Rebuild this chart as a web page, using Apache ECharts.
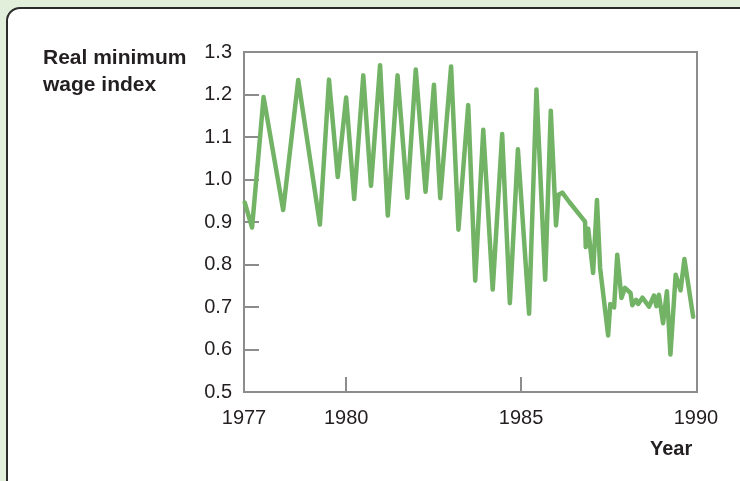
<!DOCTYPE html>
<html>
<head>
<meta charset="utf-8">
<script src="https://cdn.jsdelivr.net/npm/echarts@6/dist/echarts.min.js"></script>
<style>
html,body{margin:0;padding:0;background:#e2efdb;}
#chart{width:740px;height:481px;}
</style>
</head>
<body>
<div id="chart"></div>
<script>
// Data
var years = [1977.10,1977.31,1977.64,1978.20,1978.63,1979.25,1979.51,1979.76,1980.00,1980.23,
  1980.49,1980.71,1980.97,1981.19,1981.47,1981.75,1981.99,1982.27,1982.51,1982.69,
  1983.00,1983.21,1983.49,1983.69,1983.92,1984.19,1984.46,1984.68,1984.91,1985.23,
  1985.44,1985.69,1985.85,1986.00,1986.07,1986.18,1986.38,1986.83,1986.85,1986.92,
  1987.06,1987.17,1987.26,1987.49,1987.55,1987.66,1987.75,1987.87,1987.97,1988.13,
  1988.18,1988.29,1988.35,1988.47,1988.66,1988.80,1988.87,1988.94,1989.06,1989.17,
  1989.27,1989.42,1989.56,1989.67,1989.92];
var wageIndex = [0.946,0.887,1.194,0.928,1.234,0.894,1.235,1.006,1.193,0.954,
  1.245,0.985,1.269,0.915,1.245,0.957,1.259,0.971,1.223,0.956,
  1.266,0.882,1.175,0.762,1.117,0.741,1.107,0.709,1.071,0.684,
  1.212,0.764,1.162,0.892,0.964,0.969,0.947,0.901,0.841,0.884,
  0.780,0.952,0.792,0.633,0.707,0.699,0.823,0.721,0.745,0.733,
  0.704,0.717,0.707,0.722,0.701,0.727,0.702,0.729,0.662,0.737,
  0.588,0.776,0.739,0.813,0.677];
var xLabelValues = [1977.08, 1980, 1985, 1990];
var xTickValues = [1980, 1985];
var yTickValues = [0.6, 0.7, 0.8, 0.9, 1.0, 1.1, 1.2];
var yTitle = 'Real minimum\nwage index';
var xTitle = 'Year';

var points = years.map(function (y, i) { return [y, wageIndex[i]]; });
var FONT = '"Liberation Sans", Arial, Helvetica, sans-serif';
var chart = echarts.init(document.getElementById('chart'), null, {renderer: 'canvas'});
chart.setOption({
  backgroundColor: '#e2efdb',
  animation: false,
  graphic: [
    {type: 'rect', z: -10, shape: {x: 7, y: 8, width: 800, height: 520, r: [13, 0, 0, 0]},
     style: {fill: '#ffffff', stroke: '#2b2b2b', lineWidth: 2}},
    {type: 'text', left: 43, top: 45, style: {text: yTitle, font: 'bold 21px ' + FONT, fill: '#231f20', lineHeight: 27}},
    {type: 'text', left: 650, top: 439, style: {text: xTitle, font: 'bold 20px ' + FONT, fill: '#231f20'}}
  ],
  grid: {left: 244, right: 43, top: 52, bottom: 89, show: true, borderColor: '#8c8c8c', borderWidth: 2, backgroundColor: 'transparent'},
  xAxis: {
    type: 'value', min: 1977.08, max: 1990.03,
    splitLine: {show: false},
    axisLine: {show: true, lineStyle: {color: '#8c8c8c', width: 2}},
    axisTick: {show: true, inside: true, length: 15, customValues: xTickValues, lineStyle: {color: '#8c8c8c', width: 2}},
    axisLabel: {customValues: xLabelValues, margin: 16, fontSize: 20, fontFamily: FONT, color: '#231f20',
      formatter: function (v) { return String(Math.round(v)); }}
  },
  yAxis: {
    type: 'value', min: 0.5, max: 1.3, interval: 0.1,
    splitLine: {show: false},
    axisLine: {show: true, lineStyle: {color: '#8c8c8c', width: 2}},
    axisTick: {show: true, inside: true, length: 15, customValues: yTickValues, lineStyle: {color: '#8c8c8c', width: 2}},
    axisLabel: {margin: 12, fontSize: 20, fontFamily: FONT, color: '#231f20',
      formatter: function (v) { return v.toFixed(1); }}
  },
  series: [{
    type: 'line', data: points, showSymbol: false, symbol: 'none',
    lineStyle: {color: '#72b365', width: 4.5, join: 'round', cap: 'round'},
    clip: false
  }]
});
</script>
</body>
</html>
